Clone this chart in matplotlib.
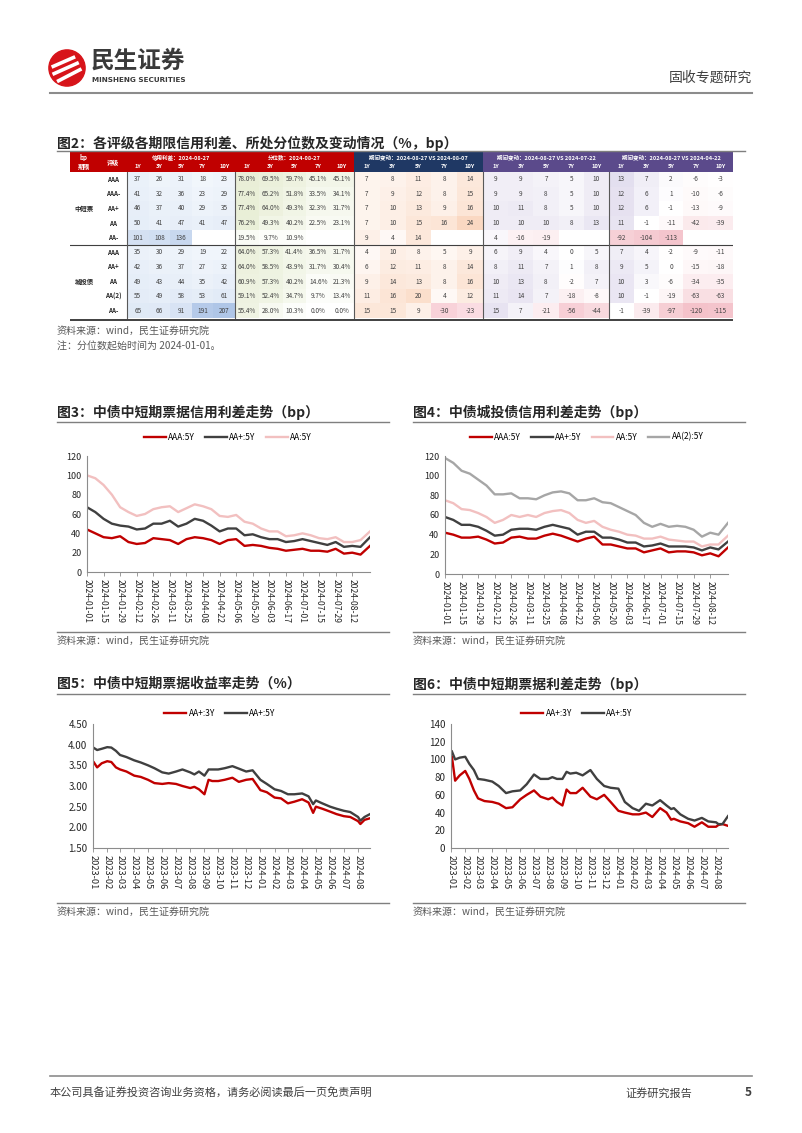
import numpy as np
import pandas as pd
import matplotlib
matplotlib.use("Agg")
import matplotlib.pyplot as plt
from matplotlib.colors import LinearSegmentedColormap, Normalize, TwoSlopeNorm
from matplotlib.patches import Rectangle, Circle

plt.rcParams['font.family'] = ['Noto Sans CJK SC', 'DejaVu Sans']
plt.rcParams['axes.unicode_minus'] = False

# ---------------- table data (图2) ----------------
groups = ["中短票", "城投债"]
ratings = ["AAA", "AAA-", "AA+", "AA", "AA-", "AAA", "AA+", "AA", "AA(2)", "AA-"]
terms = ["1Y", "3Y", "5Y", "7Y", "10Y"]
nan = np.nan
spread = [[37, 26, 31, 18, 23], [41, 32, 36, 23, 29], [46, 37, 40, 29, 35],
          [50, 41, 47, 41, 47], [101, 108, 136, nan, nan],
          [35, 30, 29, 19, 22], [42, 36, 37, 27, 32], [49, 43, 44, 35, 42],
          [55, 49, 58, 53, 61], [65, 66, 91, 191, 207]]
pct = [[78.0, 69.5, 59.7, 45.1, 45.1], [77.4, 65.2, 51.8, 33.5, 34.1],
       [77.4, 64.0, 49.3, 32.3, 31.7], [76.2, 49.3, 40.2, 22.5, 23.1],
       [19.5, 9.7, 10.9, nan, nan],
       [64.0, 57.3, 41.4, 36.5, 31.7], [64.0, 58.5, 43.9, 31.7, 30.4],
       [60.9, 57.3, 40.2, 14.6, 21.3], [59.1, 52.4, 34.7, 9.7, 13.4],
       [55.4, 28.0, 10.3, 0.0, 0.0]]
chg_0807 = [[7, 8, 11, 8, 14], [7, 9, 12, 8, 15], [7, 10, 13, 9, 16], [7, 10, 15, 16, 24],
            [9, 4, 14, nan, nan],
            [4, 10, 8, 5, 9], [6, 12, 11, 8, 14], [9, 14, 13, 8, 16], [11, 16, 20, 4, 12],
            [15, 15, 9, -30, -23]]
chg_0722 = [[9, 9, 7, 5, 10], [9, 9, 8, 5, 10], [10, 11, 8, 5, 10], [10, 10, 10, 8, 13],
            [4, -16, -19, nan, nan],
            [6, 9, 4, 0, 5], [8, 11, 7, 1, 8], [10, 13, 8, -2, 7], [11, 14, 7, -18, -8],
            [15, 7, -21, -56, -44]]
chg_0422 = [[13, 7, 2, -6, -3], [12, 6, 1, -10, -6], [12, 6, -1, -13, -9], [11, -1, -11, -42, -39],
            [-92, -104, -113, nan, nan],
            [7, 4, -2, -9, -11], [9, 5, 0, -15, -18], [10, 3, -6, -34, -35], [10, -1, -19, -63, -63],
            [-1, -39, -97, -120, -115]]
block_titles = ["信用利差：2024-08-27", "分位数：2024-08-27",
                "期间变动：2024-08-27 VS 2024-08-07",
                "期间变动：2024-08-27 VS 2024-07-22",
                "期间变动：2024-08-27 VS 2024-04-22"]

# ---------------- 图3 / 图4 data ----------------
dates34 = ["2024-01-01", "2024-01-08", "2024-01-15", "2024-01-22", "2024-01-29", "2024-02-05",
           "2024-02-12", "2024-02-19", "2024-02-26", "2024-03-04", "2024-03-11", "2024-03-18",
           "2024-03-25", "2024-04-01", "2024-04-08", "2024-04-15", "2024-04-22", "2024-04-29",
           "2024-05-06", "2024-05-13", "2024-05-20", "2024-05-27", "2024-06-03", "2024-06-10",
           "2024-06-17", "2024-06-24", "2024-07-01", "2024-07-08", "2024-07-15", "2024-07-22",
           "2024-07-29", "2024-08-05", "2024-08-12", "2024-08-19", "2024-08-27"]
mtn_aaa = [44, 40, 36, 35, 37, 31, 29, 30, 35, 34, 33, 29, 34, 36, 35, 33, 29, 33, 34, 27,
           28, 27, 25, 24, 22, 23, 24, 22, 22, 21, 24, 19, 20, 18, 27]
mtn_aap = [67, 62, 55, 50, 48, 47, 44, 45, 50, 50, 53, 47, 50, 55, 53, 48, 42, 45, 45, 38,
           39, 36, 34, 34, 31, 32, 34, 32, 30, 28, 31, 26, 27, 26, 36]
mtn_aa = [100, 97, 90, 80, 67, 62, 58, 60, 65, 67, 68, 62, 66, 70, 68, 65, 58, 57, 59, 52,
          50, 45, 42, 42, 37, 38, 40, 38, 35, 34, 36, 31, 31, 33, 42]
cty_aaa = [42, 40, 37, 37, 38, 35, 31, 32, 37, 38, 36, 36, 39, 41, 39, 36, 33, 36, 38, 30,
           30, 28, 26, 26, 22, 24, 26, 22, 23, 23, 22, 19, 21, 18, 27]
cty_aap = [58, 55, 50, 50, 48, 44, 39, 40, 45, 46, 46, 45, 48, 50, 48, 46, 40, 43, 43, 37,
           37, 35, 32, 32, 28, 29, 31, 28, 28, 28, 27, 24, 27, 25, 33]
cty_aa = [75, 72, 66, 65, 62, 58, 52, 55, 60, 58, 60, 58, 62, 64, 65, 62, 55, 52, 54, 48,
          45, 43, 40, 39, 36, 36, 38, 35, 34, 33, 33, 28, 30, 30, 39]
cty_aa2 = [118, 113, 105, 102, 96, 90, 81, 81, 82, 77, 77, 76, 80, 83, 84, 82, 75, 75, 77, 73,
           72, 68, 64, 60, 52, 48, 51, 48, 49, 48, 45, 38, 42, 40, 52]
ticks34 = ["2024-01-01", "2024-01-15", "2024-01-29", "2024-02-12", "2024-02-26", "2024-03-11",
           "2024-03-25", "2024-04-08", "2024-04-22", "2024-05-06", "2024-05-20", "2024-06-03",
           "2024-06-17", "2024-07-01", "2024-07-15", "2024-07-29", "2024-08-12"]

# ---------------- 图5 / 图6 data ----------------
dates56 = ["2023-01-03", "2023-01-10", "2023-01-20", "2023-02-01", "2023-02-10", "2023-02-20",
           "2023-03-01", "2023-03-15", "2023-04-01", "2023-04-15", "2023-05-01", "2023-05-15",
           "2023-06-01", "2023-06-15", "2023-07-01", "2023-07-15", "2023-08-01", "2023-08-10",
           "2023-08-20", "2023-09-01", "2023-09-10", "2023-09-18", "2023-10-01", "2023-10-15",
           "2023-11-01", "2023-11-15", "2023-12-01", "2023-12-15", "2024-01-01", "2024-01-15",
           "2024-02-01", "2024-02-15", "2024-03-01", "2024-03-15", "2024-04-01", "2024-04-15",
           "2024-04-25", "2024-05-01", "2024-05-15", "2024-06-01", "2024-06-15", "2024-07-01",
           "2024-07-15", "2024-08-01", "2024-08-06", "2024-08-15", "2024-08-27"]
ytm_3y = [3.57, 3.45, 3.55, 3.60, 3.58, 3.45, 3.40, 3.35, 3.25, 3.22, 3.15, 3.07, 3.05, 3.07,
          3.05, 3.00, 2.95, 2.98, 2.92, 2.80, 3.15, 3.12, 3.12, 3.15, 3.20, 3.10, 3.15, 3.17,
          2.90, 2.85, 2.72, 2.70, 2.58, 2.62, 2.68, 2.60, 2.35, 2.50, 2.45, 2.38, 2.32, 2.27,
          2.25, 2.15, 2.08, 2.18, 2.22]
ytm_5y = [3.92, 3.87, 3.90, 3.94, 3.93, 3.85, 3.75, 3.70, 3.62, 3.57, 3.50, 3.43, 3.33, 3.30,
          3.35, 3.40, 3.33, 3.28, 3.35, 3.25, 3.40, 3.40, 3.40, 3.43, 3.48, 3.42, 3.35, 3.38,
          3.15, 3.05, 2.92, 2.88, 2.80, 2.80, 2.82, 2.75, 2.56, 2.65, 2.58, 2.50, 2.45, 2.40,
          2.37, 2.25, 2.16, 2.25, 2.32]
sp_3y = [103, 76, 82, 87, 78, 65, 56, 53, 52, 50, 45, 46, 55, 60, 65, 58, 55, 57, 52, 48,
         66, 62, 62, 68, 58, 55, 60, 52, 42, 40, 38, 38, 40, 35, 45, 40, 32, 33, 30, 28,
         24, 29, 24, 24, 26, 27, 25]
sp_5y = [109, 100, 102, 103, 95, 88, 78, 77, 75, 70, 62, 64, 65, 72, 83, 78, 78, 80, 78, 78,
         86, 84, 85, 82, 88, 78, 70, 68, 67, 52, 45, 42, 50, 48, 54, 48, 44, 45, 38, 33,
         31, 34, 30, 29, 27, 27, 36]
ticks56 = ["2023-01-01", "2023-02-01", "2023-03-01", "2023-04-01", "2023-05-01", "2023-06-01",
           "2023-07-01", "2023-08-01", "2023-09-01", "2023-10-01", "2023-11-01", "2023-12-01",
           "2024-01-01", "2024-02-01", "2024-03-01", "2024-04-01", "2024-05-01", "2024-06-01",
           "2024-07-01", "2024-08-01"]

RED = "#C00000"
DARK = "#404040"
PINK = "#F2C0C0"
GRAY = "#A6A6A6"
TXT = "#595959"

W, H = 802, 1133
fig = plt.figure(figsize=(W / 100, H / 100), dpi=100)


def fx(px):
    return px / W


def fy(py):
    return 1 - py / H


def rect(l, t, r, b):
    return [fx(l), fy(b), (r - l) / W, (b - t) / H]


def hline(x0, x1, y, color="#7F7F7F", lw=1.0):
    fig.add_artist(plt.Line2D([fx(x0), fx(x1)], [fy(y), fy(y)], transform=fig.transFigure,
                              color=color, lw=lw))


def ftext(x, y, s, **kw):
    fig.text(fx(x), fy(y), s, **kw)


# ---------------- page header ----------------
lax = fig.add_axes(rect(48, 49, 86, 87))
lax.set_xlim(-1.05, 1.05)
lax.set_ylim(-1.05, 1.05)
lax.set_aspect("equal")
lax.axis("off")
circ = Circle((0, 0), 1, color="#D7141A")
lax.add_patch(circ)
for x0, y0, x1, y1 in [(-0.85, 0.05, 0.45, 0.62), (-0.8, -0.35, 0.65, 0.3), (-0.55, -0.75, 0.8, -0.05)]:
    ln, = lax.plot([x0, x1], [y0, y1], color="white", lw=2.6, solid_capstyle="butt")
    ln.set_clip_path(circ)
ftext(91, 61, "民生证券", fontsize=17, fontweight="bold", color="#3A3A3A", va="center")
ftext(92, 80, "MINSHENG SECURITIES", fontsize=5.2, fontweight="bold", color="#3A3A3A",
      va="center", family="DejaVu Sans")
ftext(752, 78, "固收专题研究", fontsize=10, color="#404040", ha="right", va="center")
hline(50, 752, 93, color="#8C8C8C", lw=1.5)

# ---------------- 图2 table ----------------
ftext(57, 143, "图2：各评级各期限信用利差、所处分位数及变动情况（%，bp）", fontsize=10,
      fontweight="bold", color="#262626", va="center")
hline(57, 745, 151, color="#7F7F7F", lw=1.0)

tax = fig.add_axes(rect(70, 152, 733, 321))
tax.set_xlim(70, 733)
tax.set_ylim(321, 152)
tax.axis("off")

block_edges = [(127, 235), (235, 354), (354, 483), (483, 609), (609, 733)]
head_colors = ["#C00000", "#C00000", "#1F3864", "#5B4A8B", "#5B4A8B"]
row_edges = np.linspace(172, 318, 11)

tax.add_patch(Rectangle((70, 152), 57, 20, color="#C00000", lw=0))
tax.text(84, 157.5, "bp", fontsize=4.4, color="white", ha="center", va="center", fontweight="bold")
tax.text(84, 167, "期限", fontsize=4.4, color="white", ha="center", va="center", fontweight="bold")
tax.text(113, 162, "评级", fontsize=4.4, color="white", ha="center", va="center", fontweight="bold")

cmaps = [
    (LinearSegmentedColormap.from_list("sp", ["#F7FAFD", "#AEC5E7"]), Normalize(0, 210)),
    (LinearSegmentedColormap.from_list("pc", ["#FFFFFF", "#E8EED6"]), Normalize(0, 80)),
    (LinearSegmentedColormap.from_list("c1", ["#F6C3CC", "#FFFFFF", "#F9D2B8"]),
     TwoSlopeNorm(0, -40, 28)),
    (LinearSegmentedColormap.from_list("c2", ["#F4BFC8", "#FFFFFF", "#DCD6EA"]),
     TwoSlopeNorm(0, -75, 22)),
    (LinearSegmentedColormap.from_list("c3", ["#F2B8C1", "#FFFFFF", "#D9D3E9"]),
     TwoSlopeNorm(0, -140, 18)),
]
blocks = [spread, pct, chg_0807, chg_0722, chg_0422]

for k, (data, (x0, x1)) in enumerate(zip(blocks, block_edges)):
    tax.add_patch(Rectangle((x0, 152), x1 - x0, 20, color=head_colors[k], lw=0))
    tax.text((x0 + x1) / 2, 157.5, block_titles[k], fontsize=4.0, color="white",
             ha="center", va="center", fontweight="bold")
    col_edges = np.linspace(x0, x1, 6)
    centers = (col_edges[:-1] + col_edges[1:]) / 2
    for j, t in enumerate(terms):
        tax.text(centers[j], 167, t, fontsize=4.2, color="white", ha="center", va="center",
                 fontweight="bold")
    arr = np.ma.masked_invalid(np.array(data, dtype=float))
    cmap, norm = cmaps[k]
    tax.pcolormesh(col_edges, row_edges, arr, cmap=cmap, norm=norm, shading="flat")
    for i in range(10):
        for j in range(5):
            v = data[i][j]
            if np.isnan(v):
                continue
            s = f"{v:.1f}%" if k == 1 else f"{int(v)}"
            tax.text(centers[j], (row_edges[i] + row_edges[i + 1]) / 2, s, fontsize=4.6,
                     color="#404040", ha="center", va="center")

for i, r in enumerate(ratings):
    tax.text(113, (row_edges[i] + row_edges[i + 1]) / 2, r, fontsize=4.5, color="#262626",
             ha="center", va="center", fontweight="bold")
tax.text(84, (row_edges[0] + row_edges[5]) / 2, groups[0], fontsize=4.6, color="#262626",
         ha="center", va="center", fontweight="bold")
tax.text(84, (row_edges[5] + row_edges[10]) / 2, groups[1], fontsize=4.6, color="#262626",
         ha="center", va="center", fontweight="bold")

tax.plot([70, 733], [row_edges[5], row_edges[5]], color="#404040", lw=0.8)
for xv in [127, 235, 354, 483, 609]:
    tax.plot([xv, xv], [172, 318], color="#595959", lw=0.8)
tax.plot([70, 733], [319.5, 319.5], color="#404040", lw=1.4)

ftext(57, 331, "资料来源：wind，民生证券研究院", fontsize=7.2, color=TXT, va="center")
ftext(57, 347, "注：分位数起始时间为 2024-01-01。", fontsize=7.2, color=TXT, va="center")


# ---------------- line charts ----------------
def line_chart(box, title, title_x, title_y, dates, series, names, colors, ylim, yticks, yfmt,
               xticks, xfmt, leg_xy, src_y, tick_fs):
    l, t, r, b = box
    ftext(title_x, title_y, title, fontsize=10, fontweight="bold", color="#262626", va="center")
    hline(title_x, title_x + 332, title_y + 10, color="#7F7F7F", lw=1.0)
    ax = fig.add_axes(rect(l, t, r, b))
    d = pd.to_datetime(dates)
    for s, n, c in zip(series, names, colors):
        ax.plot(d, s, color=c, lw=1.7, label=n)
    ax.set_ylim(*ylim)
    ax.set_yticks(yticks)
    ax.set_yticklabels([yfmt.format(v) for v in yticks], fontsize=tick_fs, color="#262626")
    xt = pd.to_datetime(xticks)
    ax.set_xticks(xt)
    ax.set_xticklabels([x[:xfmt] for x in xticks], rotation=-90, fontsize=tick_fs - 0.3,
                       color="#262626", ha="center", va="top")
    ax.set_xlim(d[0] if d[0] < xt[0] else xt[0], d[-1])
    for sp in ["top", "right"]:
        ax.spines[sp].set_visible(False)
    for sp in ["left", "bottom"]:
        ax.spines[sp].set_color("#8C8C8C")
        ax.spines[sp].set_linewidth(0.8)
    ax.tick_params(axis="x", length=3, width=0.6, color="#8C8C8C", pad=2)
    ax.tick_params(axis="y", length=0, pad=4)
    ax.patch.set_alpha(0)
    ax.legend(loc="center", bbox_to_anchor=(fx(leg_xy[0]), fy(leg_xy[1])),
              bbox_transform=fig.transFigure, ncol=len(names), frameon=False, fontsize=6,
              handlelength=2.6, columnspacing=1.2, handletextpad=0.3)
    hline(title_x, title_x + 332, src_y - 9, color="#7F7F7F", lw=1.0)
    ftext(title_x, src_y, "资料来源：wind，民生证券研究院", fontsize=7.2, color=TXT, va="center")
    return ax


line_chart((87, 456, 370, 572), "图3：中债中短期票据信用利差走势（bp）", 57, 412,
           dates34, [mtn_aaa, mtn_aap, mtn_aa], ["AAA:5Y", "AA+:5Y", "AA:5Y"],
           [RED, DARK, PINK], (0, 120), [0, 20, 40, 60, 80, 100, 120], "{:d}",
           ticks34, 10, (228, 437), 641, 6.5)

line_chart((445, 456, 728, 574), "图4：中债城投债信用利差走势（bp）", 413, 412,
           dates34, [cty_aaa, cty_aap, cty_aa, cty_aa2],
           ["AAA:5Y", "AA+:5Y", "AA:5Y", "AA(2):5Y"],
           [RED, DARK, PINK, GRAY], (0, 120), [0, 20, 40, 60, 80, 100, 120], "{:d}",
           ticks34, 10, (587, 437), 641, 6.5)

line_chart((93, 724, 370, 848), "图5：中债中短期票据收益率走势（%）", 57, 684,
           dates56, [ytm_3y, ytm_5y], ["AA+:3Y", "AA+:5Y"], [RED, DARK],
           (1.5, 4.5), [1.5, 2.0, 2.5, 3.0, 3.5, 4.0, 4.5], "{:.2f}",
           ticks56, 7, (220, 713), 912, 7)

line_chart((451, 724, 728, 848), "图6：中债中短期票据利差走势（bp）", 413, 684,
           dates56, [sp_3y, sp_5y], ["AA+:3Y", "AA+:5Y"], [RED, DARK],
           (0, 140), [0, 20, 40, 60, 80, 100, 120, 140], "{:d}",
           ticks56, 7, (577, 713), 912, 7)

# ---------------- footer ----------------
hline(50, 752, 1076, color="#8C8C8C", lw=1.2)
ftext(50, 1093, "本公司具备证券投资咨询业务资格，请务必阅读最后一页免责声明", fontsize=8,
      color="#404040", va="center")
ftext(625, 1093, "证券研究报告", fontsize=8, color="#404040", va="center")
ftext(745, 1093, "5", fontsize=8.5, color="#404040", va="center", fontweight="bold")

fig.savefig("out.png", dpi=100)
